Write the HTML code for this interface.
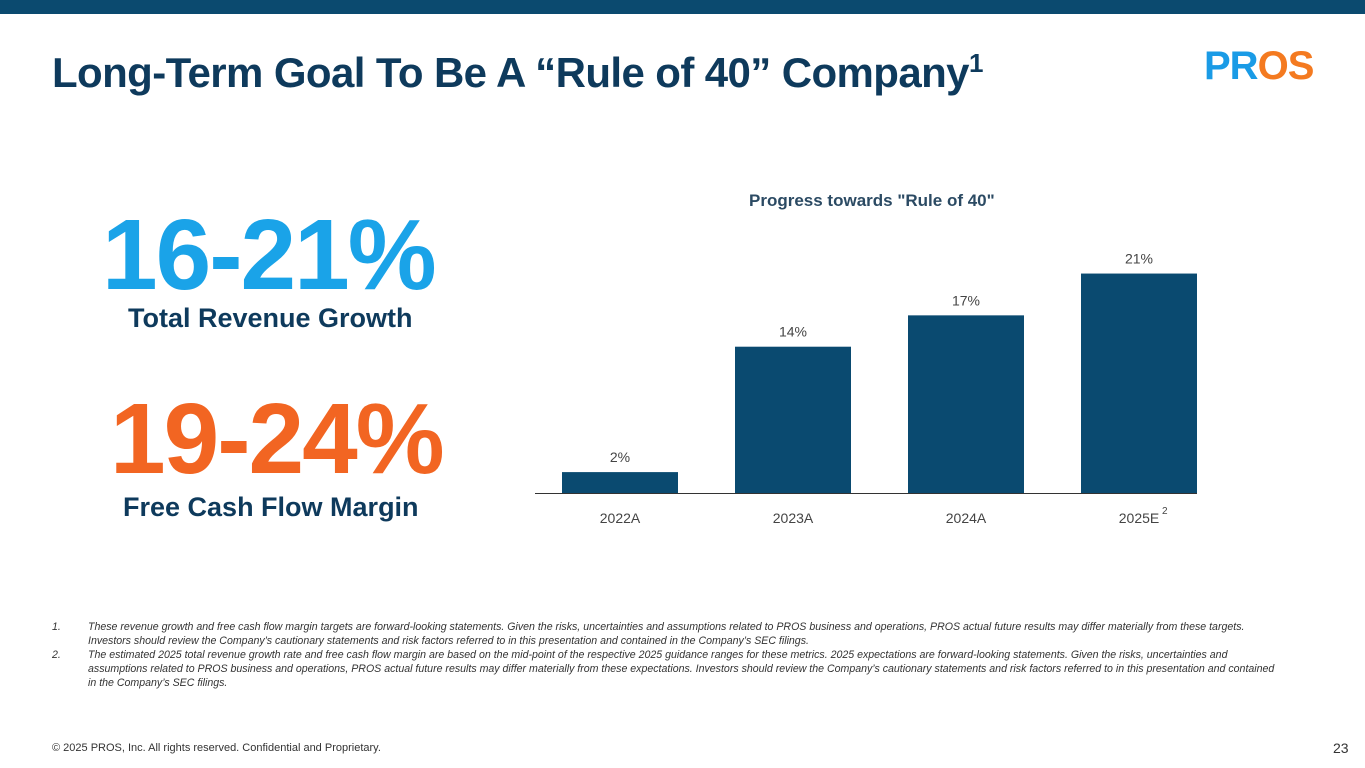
<!DOCTYPE html>
<html><head><meta charset="utf-8"><style>
body{margin:0;width:1365px;height:768px;position:relative;background:#fff;font-family:"Liberation Sans",sans-serif;overflow:hidden}
.a{position:absolute;white-space:nowrap}
</style></head><body>
<div class="a" style="left:0;top:0;width:1365px;height:14px;background:#0b4a6f"></div>
<div class="a" style="left:52px;top:48px;font-size:42px;font-weight:bold;color:#0e3a5c;letter-spacing:-0.6px">Long-Term Goal To Be A “Rule of 40” Company<sup style="font-size:26px">1</sup></div>
<div class="a" style="left:1204px;top:44px;font-size:40px;font-weight:900;letter-spacing:-1px"><span style="color:#1a9be6">PR</span><span style="color:#f47a20">OS</span></div>
<div class="a" style="left:102px;top:198px;font-size:100px;font-weight:bold;color:#1aa3e8;letter-spacing:-2px">16-21%</div>
<div class="a" style="left:128px;top:303px;font-size:27px;font-weight:bold;color:#0e3a5c">Total Revenue Growth</div>
<div class="a" style="left:110px;top:382px;font-size:100px;font-weight:bold;color:#f26522;letter-spacing:-2px">19-24%</div>
<div class="a" style="left:123px;top:492px;font-size:27px;font-weight:bold;color:#0e3a5c">Free Cash Flow Margin</div>
<div class="a" style="left:749px;top:191px;font-size:17px;font-weight:bold;color:#2b4a63">Progress towards "Rule of 40"</div>
<svg class="a" id="chart" style="left:0;top:0" width="1365" height="768"></svg>
<div class="a" style="left:52px;top:620px;font-size:10.6px;line-height:14px;font-style:italic;color:#333;white-space:normal;width:1230px">
<div style="display:flex"><span style="width:36px;flex:none">1.</span><span>These revenue growth and free cash flow margin targets are forward-looking statements. Given the risks, uncertainties and assumptions related to PROS business and operations, PROS actual future results may differ materially from these targets. Investors should review the Company’s cautionary statements and risk factors referred to in this presentation and contained in the Company’s SEC filings.</span></div>
<div style="display:flex"><span style="width:36px;flex:none">2.</span><span>The estimated 2025 total revenue growth rate and free cash flow margin are based on the mid-point of the respective 2025 guidance ranges for these metrics. 2025 expectations are forward-looking statements. Given the risks, uncertainties and assumptions related to PROS business and operations, PROS actual future results may differ materially from these expectations. Investors should review the Company’s cautionary statements and risk factors referred to in this presentation and contained in the Company’s SEC filings.</span></div>
</div>
<div class="a" style="left:52px;top:742px;font-size:11px;color:#333">© 2025 PROS, Inc. All rights reserved. Confidential and Proprietary.</div>
<div class="a" style="left:1333px;top:740px;font-size:14px;color:#333">23</div>
<script>
const categories=["2022A","2023A","2024A","2025E"];
const values=[2,14,17,21];
const valueLabels=["2%","14%","17%","21%"];
const NS="http://www.w3.org/2000/svg";
const svg=document.getElementById('chart');
const base=493,pxPer=10.45,x0=620,step=173,bw=116;
const xs=i=>x0+i*step, ys=v=>base-v*pxPer;
function mk(t,a){const e=document.createElementNS(NS,t);for(const k in a)e.setAttribute(k,a[k]);svg.appendChild(e);return e;}
values.forEach((v,i)=>{
 const r=mk('rect',{x:xs(i)-bw/2,y:ys(v),width:bw,height:base-ys(v),fill:'#0a4a70'});
 
 
 const t=mk('text',{x:xs(i),y:ys(v)-10,'text-anchor':'middle','font-size':14,fill:'#444','font-family':'Liberation Sans'});
 t.textContent=valueLabels[i];
 
 
 const c=mk('text',{x:xs(i),y:523,'text-anchor':'middle','font-size':14,fill:'#444','font-family':'Liberation Sans'});
 c.textContent=categories[i];
 
 
 if(categories[i]==="2025E"){const s=mk('text',{x:xs(i)+23,y:514,'font-size':10,fill:'#444','font-family':'Liberation Sans'});s.textContent='2';
 
 }
});
const ax=mk('line',{x1:535,x2:1197,y1:base+0.5,y2:base+0.5,stroke:'#333','stroke-width':1});


</script>
</body></html>
